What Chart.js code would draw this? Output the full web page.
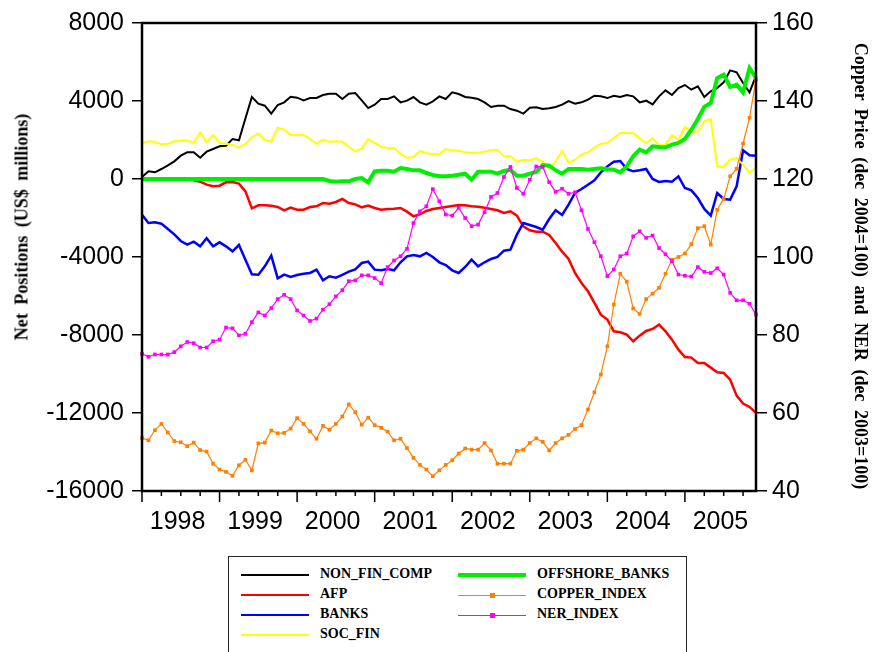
<!DOCTYPE html>
<html>
<head>
<meta charset="utf-8">
<script src="https://cdn.jsdelivr.net/npm/chart.js@4.4.1/dist/chart.umd.min.js"></script>
<style>
  body { margin: 0; background: #fff; }
  #wrap { position: relative; width: 875px; height: 652px; overflow: hidden; }
  .ytitle {
    position: absolute;
    font: bold 18px "Liberation Serif", "Times New Roman", serif;
    word-spacing: 4px;
    white-space: nowrap;
    writing-mode: vertical-rl;
    color: #000;
  }
  #titleLeft { left: 22px; top: 227px; transform: translate(-50%, -50%) rotate(180deg); }
  #titleRight { left: 860px; top: 266px; transform: translate(-50%, -50%); }
  #legend {
    position: absolute; left: 228px; top: 556px; width: 457px; height: 110px;
    border: 1.5px solid #222; background: #fff;
  }
  .item { position: absolute; height: 20px; width: 220px; }
  .item .sample { position: absolute; left: 0; width: 68px; top: 10px; }
  .item .mark { position: absolute; left: 32px; top: 8px; width: 5px; height: 5px; }
  .item .label {
    position: absolute; left: 79px; top: 1px;
    font: bold 14px "Liberation Serif", "Times New Roman", serif; color: #000;
  }
</style>
</head>
<body>
<div id="wrap">
  <canvas id="chart" width="875" height="652"></canvas>
  <div class="ytitle" id="titleLeft">Net Positions (US$ millions)</div>
  <div class="ytitle" id="titleRight">Copper Price (dec 2004=100) and NER (dec 2003=100)</div>
  <div id="legend"></div>
</div>
<script>
// data, monthly Jan 1998 - Dec 2005
const years = ['1998', '1999', '2000', '2001', '2002', '2003', '2004', '2005'];
const months = [];
years.forEach(y => { for (let m = 1; m <= 12; m++) months.push(y + 'M' + m); });

const leftTicks = [-16000, -12000, -8000, -4000, 0, 4000, 8000];
const rightTicks = [40, 60, 80, 100, 120, 140, 160];

const nonFinComp = [
  100, 393, 342, 513, 700, 906, 1196, 1367, 1367, 1094, 1401, 1538, 1675, 1709, 2051, 1982, 3100, 4204, 3862, 3760, 3350, 3794, 3931, 4221,
  4170, 4033, 4153, 4153, 4307, 4375, 4375, 4102, 4375, 4409, 4033, 3640, 3811, 4102, 4102, 4238, 3931, 4016, 4204, 3931, 3811, 3982, 4238, 4102,
  4443, 4358, 4204, 4170, 4102, 3931, 3691, 3760, 3760, 3589, 3503, 3350, 3657, 3674, 3589, 3623, 3691, 3811, 3999, 3862, 3931, 4067, 4272, 4238,
  4150, 4272, 4204, 4307, 4238, 3931, 4016, 3828, 4238, 4546, 4307, 4666, 4819, 4580, 4751, 4204, 4495, 4666, 4956, 5571, 5469, 4922, 4443, 5298
];
const afp = [
  -30, -30, -30, -30, -30, -30, -30, -30, -68, -137, -290, -376, -342, -171, -154, -239, -632, -1504, -1350, -1350, -1367, -1436, -1606, -1470,
  -1572, -1572, -1436, -1401, -1230, -1265, -1179, -1025, -1230, -1299, -1453, -1367, -1487, -1572, -1538, -1521, -1487, -1675, -1914, -1811, -1641, -1538, -1487, -1436,
  -1380, -1333, -1350, -1401, -1418, -1470, -1538, -1606, -1743, -1658, -1880, -2427, -2632, -2700, -2700, -2871, -3281, -3726, -4102, -4819, -5332, -5759, -6357, -6956,
  -7210, -7810, -7861, -7981, -8323, -8032, -7793, -7691, -7469, -7810, -8237, -8750, -9126, -9160, -9433, -9433, -9673, -9912, -9946, -10288, -11109, -11519, -11690, -11997
];
const banks = [
  -1829, -2256, -2222, -2290, -2564, -2837, -3179, -3367, -3213, -3452, -3042, -3452, -3247, -3452, -3709, -3384, -4136, -4888, -4905, -4478, -3931, -5093, -4905, -5024,
  -4920, -4854, -4819, -4648, -5195, -4990, -5059, -4922, -4751, -4631, -4307, -4238, -4648, -4683, -4614, -4683, -4272, -3965, -3897, -3965, -3794, -3999, -4272, -4409,
  -4683, -4819, -4512, -4136, -4478, -4272, -4102, -3999, -3674, -3623, -2854, -2256, -2358, -2461, -2598, -2051, -1606, -1846, -1316, -718, -513, -291, -68, 342,
  649, 889, 923, 513, 393, 444, 513, 0, -154, -103, -137, 137, -461, -581, -974, -1538, -1880, -718, -1025, -1060, -376, 1470, 1213, 1196
];
const socFin = [
  1846, 1931, 1897, 1777, 1811, 1931, 1965, 1982, 1846, 2393, 1880, 2256, 1846, 1811, 1760, 1606, 1794, 2153, 2324, 2017, 1914, 2632, 2529, 2256,
  2256, 2256, 2051, 1811, 2017, 1914, 1931, 1914, 1641, 1418, 1572, 2051, 1846, 1675, 1572, 1589, 1299, 1077, 1128, 1436, 1333, 1265, 1282, 1538,
  1470, 1453, 1367, 1333, 1350, 1401, 1470, 1504, 1162, 1162, 889, 991, 957, 1060, 889, 513, 906, 1436, 820, 991, 1265, 1367, 1606, 1811,
  1846, 2102, 2358, 2358, 2358, 2085, 1846, 2085, 1760, 1760, 2239, 2017, 2666, 2427, 2427, 2957, 3076, 649, 615, 991, 1077, 735, 342, 564
];
const offshoreBanks = [
  0, 0, 0, 0, 0, 0, 0, 0, 0, 0, 0, 0, 0, 0, 0, 0, 0, 0, 0, 0, 0, 0, 0, 0,
  0, 0, 0, 0, 0, -103, -137, -120, -120, 0, 51, -171, 393, 427, 427, 376, 564, 513, 444, 444, 308, 205, 137, 137,
  171, 222, 273, -34, 376, 376, 376, 273, 410, 478, 171, 171, 273, 359, 718, 684, 444, 273, 513, 513, 513, 478, 513, 547,
  500, 478, 342, 649, 1162, 1504, 1367, 1675, 1641, 1624, 1760, 1846, 2051, 2529, 3076, 3691, 3897, 5178, 5349, 4717, 4836, 4443, 5691, 5178
];
const copperIndex = [
  53.6, 53.0, 55.6, 57.2, 55.0, 52.8, 52.5, 51.5, 52.4, 50.5, 50.1, 47.0, 45.5, 44.9, 43.9, 46.6, 48.0, 45.3, 52.2, 52.4, 55.5, 54.8, 54.9, 56.0,
  58.7, 57.2, 55.3, 53.4, 56.7, 55.7, 57.2, 59.1, 62.2, 60.2, 57.0, 58.8, 56.9, 56.2, 55.2, 53.0, 53.4, 51.0, 48.5, 46.7, 45.5, 43.8, 45.3, 46.7,
  47.9, 49.6, 50.9, 50.6, 50.6, 52.3, 50.4, 47.0, 47.0, 47.0, 50.3, 50.6, 52.3, 53.5, 52.6, 50.4, 52.3, 53.5, 54.4, 55.9, 56.9, 60.9, 65.3, 69.9,
  77.1, 87.8, 95.7, 93.7, 86.8, 85.4, 89.2, 90.6, 92.1, 95.7, 99.3, 100.0, 100.9, 103.3, 107.4, 107.9, 103.2, 112.1, 114.9, 120.7, 122.6, 129.1, 135.7, 145.5
];
const nerIndex = [
  75.2, 74.4, 75.0, 75.0, 75.0, 75.6, 77.1, 78.2, 77.9, 76.8, 76.8, 78.4, 78.8, 81.9, 81.7, 79.9, 80.3, 83.3, 85.8, 85.0, 86.9, 89.2, 90.3, 89.2,
  86.3, 85.0, 83.6, 84.2, 86.5, 87.9, 89.9, 91.5, 93.8, 94.0, 95.3, 95.3, 94.6, 93.3, 97.4, 99.1, 100.2, 102.1, 108.7, 111.7, 113.0, 117.4, 114.3, 110.9,
  110.6, 112.6, 110.0, 107.9, 108.3, 111.5, 115.4, 116.4, 120.5, 123.1, 117.7, 116.2, 119.8, 123.2, 123.1, 119.2, 116.7, 117.5, 116.2, 116.6, 112.0, 107.2, 103.8, 100.2,
  95.1, 96.8, 100.2, 100.9, 105.3, 106.6, 104.9, 105.5, 102.3, 100.7, 98.9, 95.5, 95.2, 95.0, 97.4, 96.2, 95.9, 97.1, 95.5, 90.8, 88.9, 88.9, 88.0, 85.2
];

// line dataset helper
function line(label, data, color, width, axis, marker) {
  return {
    label: label,
    data: data,
    yAxisID: axis,
    borderColor: color,
    backgroundColor: color,
    borderWidth: width,
    pointRadius: marker ? 2.6 : 0,
    pointStyle: 'rect',
    pointBorderWidth: 0,
    pointBackgroundColor: color,
    tension: 0,
    fill: false
  };
}

const datasets = [
  line('NON_FIN_COMP', nonFinComp, '#000000', 2, 'y'),
  line('AFP', afp, '#ff0000', 2.5, 'y'),
  line('BANKS', banks, '#0000ff', 2.5, 'y'),
  line('SOC_FIN', socFin, '#ffff00', 2, 'y'),
  line('OFFSHORE_BANKS', offshoreBanks, '#00ee00', 4, 'y'),
  line('COPPER_INDEX', copperIndex, '#ff8000', 1.2, 'y2', true),
  line('NER_INDEX', nerIndex, '#ff00ff', 1.2, 'y2', true)
];
// later series on top
datasets.forEach((ds, i) => { ds.order = datasets.length - i; });

const tickFont = { family: 'Liberation Sans, Arial, sans-serif', size: 25 };

// plot frame and quarter / year tick marks on the time axis
const framePlugin = {
  id: 'frame',
  afterDatasetsDraw(chart) {
    const { ctx, chartArea: a, scales: { x } } = chart;
    ctx.save();
    ctx.strokeStyle = '#000';
    ctx.lineWidth = 2.5;
    ctx.strokeRect(a.left, a.top, a.right - a.left, a.bottom - a.top);
    ctx.lineWidth = 1.5;
    ctx.beginPath();
    for (let i = 0; i < months.length; i += 3) {
      const px = x.getPixelForValue(i);
      ctx.moveTo(px, a.bottom);
      ctx.lineTo(px, a.bottom + (i % 12 === 0 ? 11 : 5));
    }
    ctx.stroke();
    ctx.restore();
  }
};

const chart = new Chart(document.getElementById('chart'), {
  type: 'line',
  data: { labels: months, datasets: datasets },
  options: {
    responsive: false,
    animation: false,
    devicePixelRatio: 1,
    layout: { padding: { top: 21, bottom: 111, left: 0, right: 0 } },
    plugins: { legend: { display: false }, tooltip: { enabled: false } },
    scales: {
      x: {
        type: 'category',
        offset: false,
        grid: { display: false, drawTicks: true, tickLength: 12 },
        border: { display: false },
        afterBuildTicks: s => { s.ticks = years.map((y, i) => ({ value: 5.5 + 12 * i })); },
        afterFit: s => { s.height = 50; },
        ticks: {
          autoSkip: false, maxRotation: 0, padding: 4,
          font: tickFont, color: '#000',
          callback: (v, i) => years[i]
        }
      },
      y: {
        position: 'left',
        min: -16000, max: 8000,
        afterBuildTicks: s => { s.ticks = leftTicks.map(v => ({ value: v })); },
        afterFit: s => { s.width = 142; },
        grid: { drawOnChartArea: false, tickLength: 10, color: '#000', lineWidth: 1.5 },
        border: { display: false },
        ticks: { padding: 8, font: tickFont, color: '#000', callback: v => String(v) }
      },
      y2: {
        position: 'right',
        min: 40, max: 160,
        afterBuildTicks: s => { s.ticks = rightTicks.map(v => ({ value: v })); },
        afterFit: s => { s.width = 119; },
        grid: { drawOnChartArea: false, tickLength: 11, color: '#000', lineWidth: 1.5 },
        border: { display: false },
        ticks: { padding: 5, font: tickFont, color: '#000', callback: v => String(v) }
      }
    }
  },
  plugins: [framePlugin]
});

// legend box, two columns
const legendEl = document.getElementById('legend');
chart.data.datasets.forEach((ds, i) => {
  const col = i < 4 ? 0 : 1;
  const row = i < 4 ? i : i - 4;
  const item = document.createElement('div');
  item.className = 'item';
  item.style.left = (col ? 229 : 12) + 'px';
  item.style.top = (8 + 20 * row) + 'px';
  const lw = ds.pointRadius ? 1 : Math.min(ds.borderWidth, 4);
  const sample = document.createElement('div');
  sample.className = 'sample';
  sample.style.borderTop = lw + 'px solid ' + ds.borderColor;
  sample.style.marginTop = (-lw / 2) + 'px';
  item.appendChild(sample);
  if (ds.pointRadius) {
    const mark = document.createElement('div');
    mark.className = 'mark';
    mark.style.background = ds.borderColor;
    item.appendChild(mark);
  }
  const label = document.createElement('span');
  label.className = 'label';
  label.textContent = ds.label;
  item.appendChild(label);
  legendEl.appendChild(item);
});
</script>
</body>
</html>
